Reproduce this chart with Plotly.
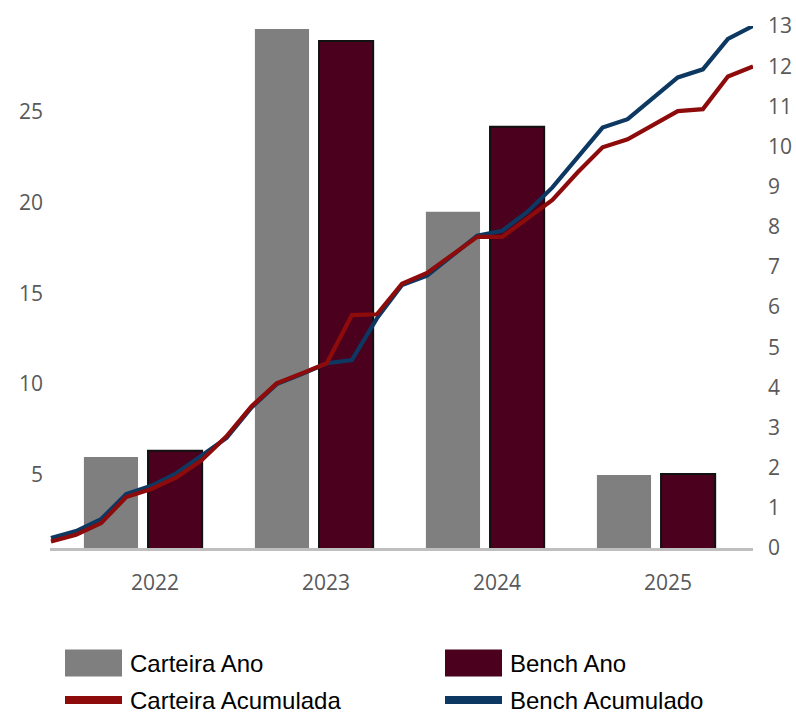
import plotly.graph_objects as go

# ---- data ----
years = ["2022", "2023", "2024", "2025"]
carteira_ano = [5.98, 29.55, 19.49, 4.99]
bench_ano = [6.32, 28.89, 24.17, 5.05]

periods = list(range(29))
carteira_acum = [0.16, 0.33, 0.62, 1.27, 1.47, 1.76, 2.18, 2.78, 3.53, 4.10,
                 4.35, 4.60, 5.80, 5.82, 6.58, 6.85, 7.30, 7.75, 7.75, 8.20,
                 8.67, 9.35, 9.98, 10.18, 10.52, 10.88, 10.93, 11.74, 11.99]
bench_acum = [0.25, 0.42, 0.72, 1.34, 1.55, 1.86, 2.30, 2.74, 3.50, 4.08,
              4.33, 4.60, 4.68, 5.72, 6.55, 6.78, 7.28, 7.78, 7.90, 8.37,
              8.98, 9.72, 10.47, 10.68, 11.20, 11.72, 11.92, 12.68, 13.00]

left_ticks = [5, 10, 15, 20, 25]
right_ticks = list(range(0, 14))

# ---- styles ----
GRAY = "#7f7f7f"
MAROON = "#4b001e"
RED = "#8e0b0b"
BLUE = "#0c3862"
TICK_FONT = dict(family="Open Sans, Roboto, sans-serif", size=21, color="#595959")
LEG_FONT = dict(family="Liberation Sans, Arial, sans-serif", size=24, color="#000000")

W, H = 796, 714
ML, MR, MT, MB = 50, 43, 26, 166
PW, PH = W - ML - MR, H - MT - MB

fig = go.Figure()
fig.add_trace(go.Bar(x=years, y=carteira_ano, name="Carteira Ano", marker=dict(color=GRAY, line=dict(width=0)),
                     showlegend=False))
fig.add_trace(go.Bar(x=years, y=bench_ano, name="Bench Ano", marker=dict(color=MAROON, line=dict(color="#111111", width=2)),
                     showlegend=False))
fig.add_trace(go.Scatter(x=periods, y=bench_acum, name="Bench Acumulado", mode="lines",
                         line=dict(color=BLUE, width=4.2), xaxis="x2", yaxis="y2", cliponaxis=False,
                         showlegend=False))
fig.add_trace(go.Scatter(x=periods, y=carteira_acum, name="Carteira Acumulada", mode="lines",
                         line=dict(color=RED, width=4.2), xaxis="x2", yaxis="y2", cliponaxis=False,
                         showlegend=False))

# custom legend (wide swatches like the original), placed in paper coords
legend_items = [
    ("Carteira Ano", GRAY, "bar", 65, 663),
    ("Bench Ano", MAROON, "bar", 445, 663),
    ("Carteira Acumulada", RED, "line", 65, 700),
    ("Bench Acumulado", BLUE, "line", 445, 700),
]
shapes = []
annotations = []
for label, color, kind, px, py in legend_items:
    h = 27 if kind == "bar" else 8
    yc = (H - MB - py) / PH
    x0 = (px - ML) / PW
    x1 = (px + 57 - ML) / PW
    shapes.append(dict(type="rect", xref="paper", yref="paper",
                       x0=x0, x1=x1, y0=yc - (h / 2) / PH, y1=yc + (h / 2) / PH,
                       fillcolor=color, line=dict(width=0)))
    annotations.append(dict(text=label, xref="paper", yref="paper",
                            x=(px + 63 - ML) / PW, y=yc, xanchor="left", yanchor="middle",
                            showarrow=False, font=LEG_FONT))

fig.update_layout(
    width=W, height=H,
    margin=dict(l=ML, r=MR, t=MT, b=MB, autoexpand=False),
    paper_bgcolor="white", plot_bgcolor="white",
    barmode="group", bargap=0.25, bargroupgap=0.156,
    showlegend=False,
    xaxis=dict(type="category", range=[-0.544, 3.567], showgrid=False, zeroline=False,
               showline=True, linecolor="#bfbfbf", linewidth=3, ticks="", automargin=False,
               tickfont=TICK_FONT, ticklabelshift=12, ticklabelstandoff=14),
    yaxis=dict(range=[0.97, 29.72], tickvals=left_ticks, showgrid=False, zeroline=False,
               showline=False, ticks="", tickfont=TICK_FONT, ticklabelstandoff=6, automargin=False),
    xaxis2=dict(overlaying="x", range=[-0.04, 28], visible=False),
    yaxis2=dict(overlaying="y", side="right", range=[0, 13], tickvals=right_ticks, showgrid=False,
                zeroline=False, showline=False, ticks="", tickfont=TICK_FONT, ticklabelstandoff=14,
                automargin=False),
    shapes=shapes,
    annotations=annotations,
)
fig.write_html("out.html", config={"displayModeBar": False},
               post_script="document.body.style.margin='0px';document.body.style.overflow='hidden';")
